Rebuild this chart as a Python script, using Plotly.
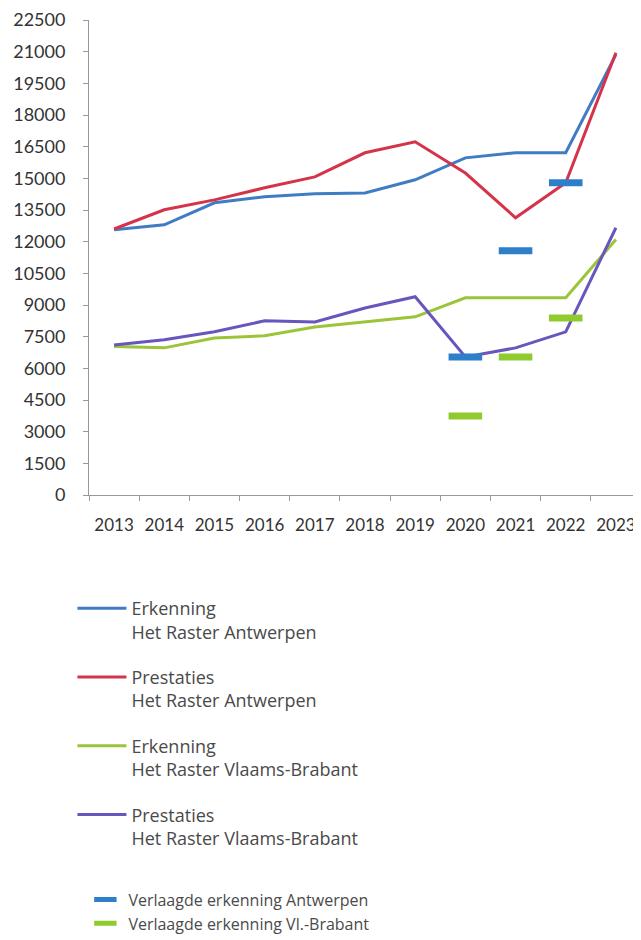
import plotly.graph_objects as go

years = ["2013", "2014", "2015", "2016", "2017", "2018", "2019", "2020", "2021", "2022", "2023"]

erkenning_antw = [12560, 12800, 13840, 14130, 14270, 14310, 14930, 15970, 16210, 16210, 20860]
prestaties_antw = [12600, 13510, 13980, 14550, 15070, 16210, 16730, 15250, 13130, 14790, 20950]
erkenning_vlb = [7030, 6970, 7440, 7540, 7960, 8200, 8440, 9340, 9340, 9340, 12100]
prestaties_vlb = [7110, 7350, 7730, 8250, 8200, 8860, 9390, 6540, 6970, 7730, 12660]

verl_years = ["2020", "2021", "2022"]
verl_antw = [6540, 11570, 14790]
verl_vlb = [3745, 6540, 8390]

names = [
    "Erkenning<br>Het Raster Antwerpen",
    "Prestaties<br>Het Raster Antwerpen",
    "Erkenning<br>Het Raster Vlaams-Brabant",
    "Prestaties<br>Het Raster Vlaams-Brabant",
]
colors = ["#3F7CC4", "#D4334A", "#9CC43A", "#6656BE"]
yticks = list(range(0, 22501, 1500))

fig = go.Figure()
for i, (name, vals, col) in enumerate(zip(names, [erkenning_antw, prestaties_antw, erkenning_vlb, prestaties_vlb], colors)):
    fig.add_trace(go.Scatter(x=years, y=vals, mode="lines", name=name, legendgroup="g%d" % i,
                             line=dict(color=col, width=3), legend="legend"))

fig.add_trace(go.Scatter(x=verl_years, y=verl_antw, mode="markers", name="Verlaagde erkenning Antwerpen",
                         marker=dict(symbol="line-ew", size=24, line=dict(color="#2F7FC8", width=7)),
                         legend="legend2"))
fig.add_trace(go.Scatter(x=verl_years, y=verl_vlb, mode="markers", name="Verlaagde erkenning Vl.-Brabant",
                         marker=dict(symbol="line-ew", size=24, line=dict(color="#8FCB2E", width=7)),
                         legend="legend2"))

# page body has an 8px default margin, so the figure is smaller and shifted by 8px
fig.update_layout(
    width=633, height=932,
    margin=dict(l=81, r=0, t=12, b=445, autoexpand=False),
    paper_bgcolor="white", plot_bgcolor="white",
    font=dict(family="Lato", color="#333333", size=18),
    xaxis=dict(type="category", categoryorder="array", categoryarray=years,
               range=[-0.5, len(years) - 0.5], tickangle=0,
               tickson="boundaries", ticks="outside", ticklen=5,
               tickcolor="#999999", showline=True, linecolor="#999999", linewidth=1,
               showgrid=False, ticklabelstandoff=15,
               tickfont=dict(size=17, color="#333333")),
    yaxis=dict(range=[0, 22500], tickvals=yticks, ticktext=[str(v) for v in yticks],
               ticks="outside", ticklen=5, tickcolor="#999999", showline=True,
               linecolor="#999999", linewidth=1, showgrid=False, zeroline=False,
               ticklabelstandoff=14,
               tickfont=dict(size=18, color="#333333")),
    legend=dict(x=-0.03, y=-0.2, xanchor="left", yanchor="top", orientation="v",
                font=dict(family="Open Sans", size=18, color="#4a4a4a"), tracegroupgap=19,
                itemwidth=49, valign="top", bgcolor="rgba(0,0,0,0)"),
    legend2=dict(x=-0.012, y=-0.816, xanchor="left", yanchor="top", orientation="v",
                 font=dict(family="Open Sans", size=16, color="#4a4a4a"), itemwidth=36,
                 bgcolor="rgba(0,0,0,0)"),
    showlegend=True,
)

fig.write_html("out.html")
